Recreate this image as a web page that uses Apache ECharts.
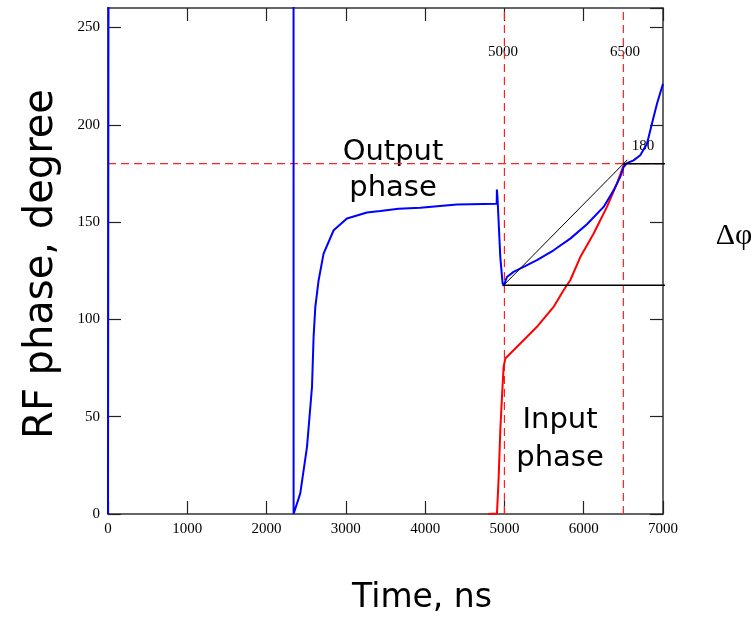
<!DOCTYPE html>
<html lang="en">
<head>
<meta charset="UTF-8" />
<title>RF phase</title>
<script src="https://cdn.jsdelivr.net/npm/echarts@6/dist/echarts.min.js"></script>
<style>
  html, body { margin: 0; padding: 0; background: #fff; }
  #chart { width: 751px; height: 619px; }
</style>
</head>
<body>
<div id="chart"></div>
<script>
// output phase (blue), time in ns / phase in degree
const outTime = [0, 8, 2340, 2341, 2425, 2510, 2573, 2593, 2615, 2656, 2719, 2846, 3014, 3266, 3434, 3665, 3939, 4401, 4903, 4905, 4912, 4948, 4977, 4990, 5032, 5115, 5242, 5410, 5620, 5830, 6041, 6251, 6377, 6461, 6503, 6545, 6629, 6713, 6798, 6861, 6924, 7000];
const outPhase = [0, 360, 360, 0, 10.6, 34.5, 65.3, 91, 106.4, 120, 133.8, 145.8, 151.8, 154.9, 155.7, 156.9, 157.4, 159, 159.4, 166.7, 163, 132, 118.4, 117.2, 121.8, 124.4, 127, 130.4, 135.5, 141.5, 148.9, 157.8, 166.3, 173.2, 178.3, 180.3, 181.7, 184.3, 190.3, 200.6, 210.8, 221.1];

// input phase (red)
const inTime = [4795, 4906, 4926, 4948, 4969, 4990, 5011, 5200, 5410, 5620, 5746, 5830, 5957, 6124, 6293, 6419, 6495, 6524];
const inPhase = [0, 0.3, 17.5, 43, 60.2, 75.6, 79.9, 87.6, 96.2, 106.4, 115, 120.1, 132, 144, 157.8, 169.8, 178.3, 180.3];

// axis ticks
const xTicks = [0, 1000, 2000, 3000, 4000, 5000, 6000, 7000];
const yTicks = [0, 50, 100, 150, 200, 250];
const yMax = 260;

// dashed reference lines and the delta-phase construction
const refTimes = [5000, 6500];
const refPhase = 180;
const chord = [[4990, 117.5], [6550, 182]];
const topBar = [[6500, 180], [7500, 180]];
const lowBar = [[4990, 117.5], [7450, 117.5]];
const deltaBar = [[7330, 180], [7330, 117.5]];

const zip = (a, b) => a.map((v, i) => [v, b[i]]);

const serif = '"Liberation Serif", "Times New Roman", serif';
const comic = '"Comic Sans MS", "DejaVu Sans", sans-serif';

const chart = echarts.init(document.getElementById('chart'), null, { renderer: 'canvas' });

const axisLine = { show: true, onZero: false, lineStyle: { color: '#333', width: 1.5 } };
const tick = { show: true, inside: true, length: 13, lineStyle: { color: '#222', width: 1.2 } };
const dashed = { color: '#ff1f1f', type: [8, 5], width: 1.2 };

const xMin = xTicks[0], xMax = xTicks[xTicks.length - 1];
const refSeries = [
  [[refTimes[0], 0], [refTimes[0], yMax]],
  [[refTimes[1], 0], [refTimes[1], yMax]],
  [[xMin, refPhase], [xMax, refPhase]]
].map(d => ({ type: 'line', data: d, showSymbol: false, silent: true, lineStyle: dashed, z: 2 }));

const blackLine = (d, color, width) => ({
  type: 'line', data: d, showSymbol: false, clip: false, silent: true,
  lineStyle: { color, width }, z: 5
});

const option = {
  animation: false,
  backgroundColor: '#fff',
  grid: { left: 108, right: 88, top: 8, bottom: 105, containLabel: false },
  xAxis: [
    {
      type: 'value', position: 'bottom', min: xMin, max: xMax, interval: 1000,
      axisLine, axisTick: tick, splitLine: { show: false },
      axisLabel: { fontFamily: serif, fontSize: 15, color: '#000', margin: 8, formatter: v => String(v) }
    },
    {
      type: 'value', position: 'top', min: xMin, max: xMax, interval: 1000,
      axisLine, axisTick: tick, splitLine: { show: false }, axisLabel: { show: false }
    }
  ],
  yAxis: [
    {
      type: 'value', position: 'left', min: yTicks[0], max: yMax, interval: 50,
      axisLine, axisTick: tick, splitLine: { show: false },
      axisLabel: { fontFamily: serif, fontSize: 15, color: '#000', margin: 8, showMaxLabel: false,
        formatter: v => (v % 50 === 0 ? String(v) : '') }
    },
    {
      type: 'value', position: 'right', min: yTicks[0], max: yMax, interval: 50,
      axisLine, axisTick: tick, splitLine: { show: false }, axisLabel: { show: false }
    }
  ],
  series: [
    ...refSeries,
    {
      name: 'Input phase', type: 'line', data: zip(inTime, inPhase), showSymbol: false,
      lineStyle: { color: '#ff0000', width: 2 }, z: 3
    },
    {
      name: 'Output phase', type: 'line', data: zip(outTime, outPhase), showSymbol: false,
      lineStyle: { color: '#0000ff', width: 2 }, z: 4
    },
    blackLine(chord, '#000', 1),
    blackLine(topBar, '#000', 1.5),
    blackLine(lowBar, '#000', 1.5),
    blackLine(deltaBar, '#555', 1.5)
  ],
  graphic: [
    { type: 'text', x: 42, y: 264, rotation: Math.PI / 2,
      style: { text: 'RF phase, degree', font: '40px ' + comic, fill: '#000', align: 'center', verticalAlign: 'middle' } },
    { type: 'text', x: 422, y: 598,
      style: { text: 'Time, ns', font: '33px ' + comic, fill: '#000', align: 'center', verticalAlign: 'middle' } },
    { type: 'text', x: 393, y: 170,
      style: { text: 'Output\nphase', font: '29px ' + comic, lineHeight: 36, fill: '#000', align: 'center', verticalAlign: 'middle' } },
    { type: 'text', x: 560, y: 439,
      style: { text: 'Input\nphase', font: '29px ' + comic, lineHeight: 38, fill: '#000', align: 'center', verticalAlign: 'middle' } },
    { type: 'text', x: 734, y: 236,
      style: { text: 'Δφ', font: '30px ' + serif, fill: '#000', align: 'center', verticalAlign: 'middle' } },
    { type: 'text', x: 503, y: 52,
      style: { text: String(refTimes[0]), font: '15px ' + serif, fill: '#000', align: 'center', verticalAlign: 'middle' } },
    { type: 'text', x: 625, y: 52,
      style: { text: String(refTimes[1]), font: '15px ' + serif, fill: '#000', align: 'center', verticalAlign: 'middle' } },
    { type: 'text', x: 643, y: 146,
      style: { text: String(refPhase), font: '15px ' + serif, fill: '#000', align: 'center', verticalAlign: 'middle' } }
  ]
};

chart.setOption(option);
</script>
</body>
</html>
